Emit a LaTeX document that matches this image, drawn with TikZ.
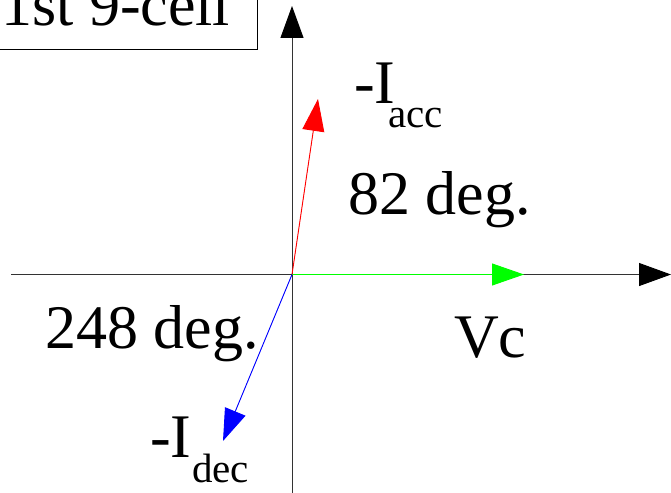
\documentclass[tikz,border=0pt]{standalone}
\usepackage{fontspec}
\setmainfont{Liberation Serif}
\usetikzlibrary{arrows.meta}
\tikzset{
  axis/.style={draw=black!80, line width=1pt, -{Triangle[length=32pt,width=23pt,color=black,fill=black]}},
  vec/.style={line width=0.9pt, -{Triangle[length=32pt,width=22pt]}},
  big/.style={inner sep=0pt, anchor=base west, font=\fontsize{62}{62}\selectfont},
  sub/.style={inner sep=0pt, anchor=base west, font=\fontsize{41}{41}\selectfont},
}
\begin{document}
\begin{tikzpicture}[x=1pt,y=-1pt]
\useasboundingbox (0,0) rectangle (671,492);
\clip (0,0) rectangle (671,492);
\fill[white] (0,0) rectangle (671,492);
% title box
\draw[line width=1pt] (-20,-20) rectangle (257,50);
\node[big] (title) at (1,26) {1st 9-cell};
% axes
\coordinate (O) at (292,274.5);
\coordinate (xl) at (11,274.5);
\coordinate (xr) at (671,274.5);
\coordinate (yb) at (292,495);
\coordinate (yt) at (292,6);
\draw[axis] (xl) -- (xr);
\draw[axis] (yb) -- (yt);
% vectors
\coordinate (vc) at (524,274.5);
\coordinate (iacc) at (318,99);
\coordinate (idec) at (223,441);
\draw[vec, draw=green, fill=green] (O) -- (vc);
\draw[vec, draw=red, fill=red] (O) -- (iacc);
\draw[vec, draw=blue, fill=blue] (O) -- (idec);
% labels
\node[big] (ia) at (354,103) {-I};
\node[sub] (iasub) at (388,128) {acc};
\node[big] (a82) at (348,214) {82 deg.};
\node[big] (a248) at (45,348) {248 deg.};
\node[big] (vclab) at (454,357) {Vc};
\node[big] (id) at (150,457) {-I};
\node[sub] (idsub) at (192,482) {dec};
\end{tikzpicture}
\end{document}
